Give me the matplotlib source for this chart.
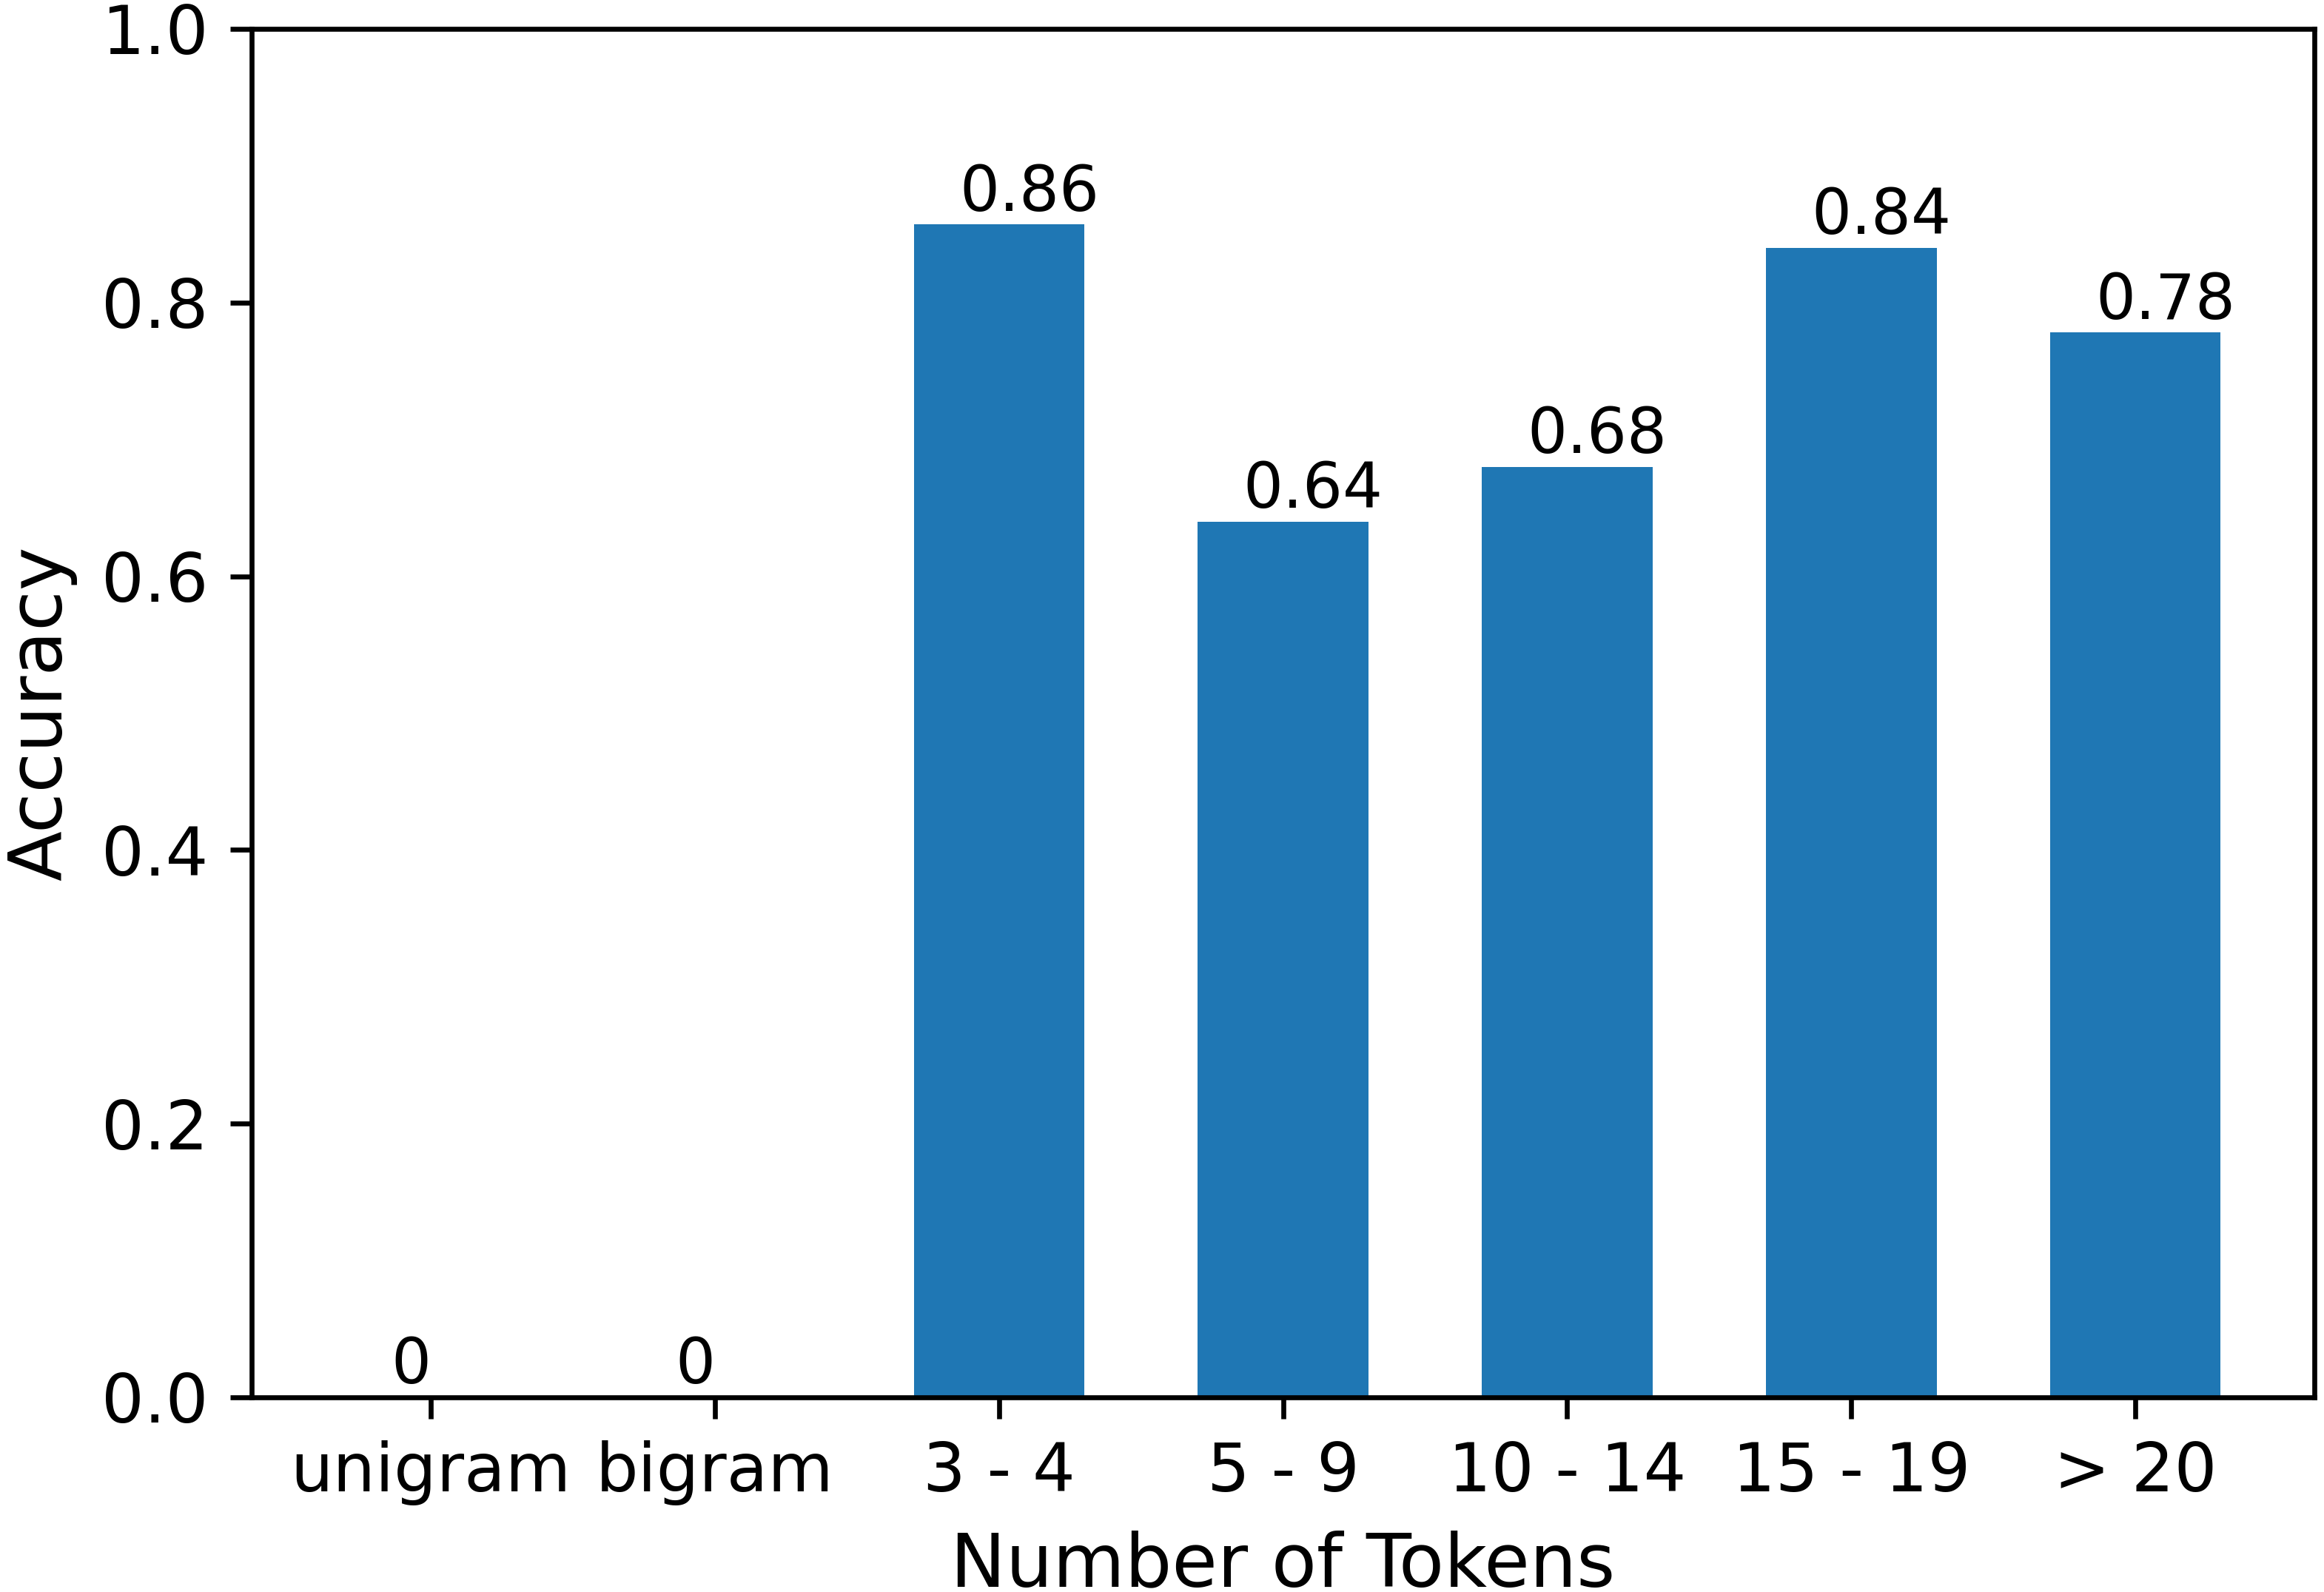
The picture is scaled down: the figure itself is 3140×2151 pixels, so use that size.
import matplotlib
matplotlib.use('Agg')
import matplotlib.pyplot as plt

# accuracy by query length
categories = ['unigram', 'bigram', '3 - 4', '5 - 9', '10 - 14', '15 - 19', '> 20']
accuracy = [0, 0, 0.857, 0.64, 0.68, 0.84, 0.778]
labels = ['0', '0', '0.86', '0.64', '0.68', '0.84', '0.78']

fig = plt.figure(figsize=(3140 / 600, 2151 / 600), dpi=600)
ax = fig.add_subplot(111)
fig.subplots_adjust(left=0.1083, right=0.9959, top=0.9819, bottom=0.1223)

x = list(range(len(categories)))
ax.bar(x, accuracy, width=0.6, color='#1f77b4')
for i, v in enumerate(accuracy):
    ax.text(i - 0.14, v + 0.01, labels[i], fontsize=10.2)

ax.set_xticks(x)
ax.set_xticklabels(categories)
ax.tick_params(labelsize=10.9)
ax.set_ylim(0, 1.0)
ax.set_xlabel('Number of Tokens', fontsize=12)
ax.set_ylabel('Accuracy', fontsize=11.9)

fig.savefig('out.png', dpi=600)
